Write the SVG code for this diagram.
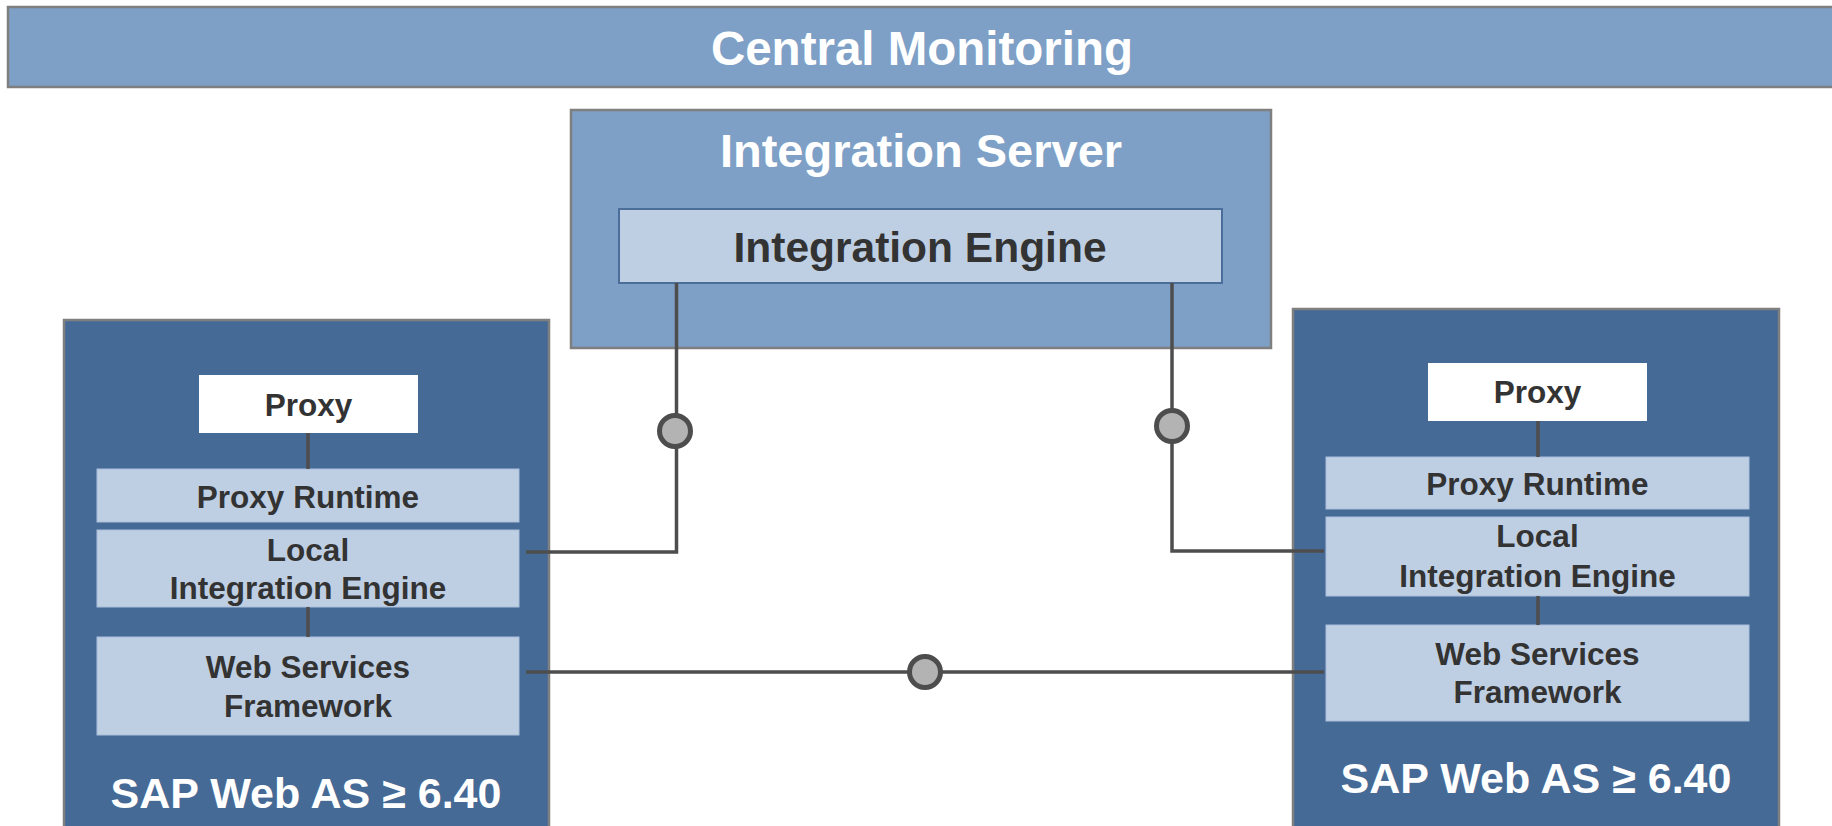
<svg xmlns="http://www.w3.org/2000/svg" width="1832" height="826" viewBox="0 0 1832 826">
<style>
text{font-family:"Liberation Sans",Arial,sans-serif;font-weight:bold;text-anchor:middle}
.w{fill:#ffffff}
.d{fill:#333333}
.outer{stroke:#7f7f7f;stroke-width:2.5}
.mid{fill:#7e9fc6}
.dark{fill:#466a96}
.lite{fill:#bfcfe3;stroke:#a9bedb;stroke-width:1}
.prox{fill:#ffffff}
.ln{fill:none;stroke:#4d4d4d;stroke-width:3.5}
.dot{fill:#b3b3b3;stroke:#4d4d4d;stroke-width:5}
.s31{font-size:31.5px}
</style>
<g id="central-monitoring">
<rect class="mid outer" x="8" y="7" width="1830" height="80"/>
<text class="w" x="922" y="65" font-size="47.5">Central Monitoring</text>
</g>
<g id="integration-server">
<rect class="mid outer" x="571" y="110" width="700" height="238"/>
<text class="w" x="921" y="167" font-size="47">Integration Server</text>
</g>
<g id="integration-engine">
<rect x="619" y="209" width="603" height="74" fill="#bfcfe3" stroke="#4a6d99" stroke-width="2"/>
<text class="d" x="920" y="262" font-size="42.5">Integration Engine</text>
</g>
<g id="left-as">
<rect class="dark outer" x="64" y="320" width="485" height="520"/>
<text class="w" x="306" y="808" font-size="43">SAP Web AS ≥ 6.40</text>
</g>
<g id="left-proxy">
<rect class="prox" x="199" y="375" width="219" height="58"/>
<text class="d s31" x="308.5" y="416">Proxy</text>
</g>
<g id="left-proxy-runtime">
<rect class="lite" x="97" y="469" width="422" height="53"/>
<text class="d s31" x="308" y="508">Proxy Runtime</text>
</g>
<g id="left-local-ie">
<rect class="lite" x="97" y="530" width="422" height="77"/>
<text class="d s31" x="308" y="561">Local</text>
<text class="d s31" x="308" y="599">Integration Engine</text>
</g>
<g id="left-wsf">
<rect class="lite" x="97" y="637" width="422" height="98"/>
<text class="d s31" x="308" y="678">Web Services</text>
<text class="d s31" x="308" y="717">Framework</text>
</g>
<g id="right-as">
<rect class="dark outer" x="1293" y="309" width="486" height="530"/>
<text class="w" x="1536" y="793" font-size="43">SAP Web AS ≥ 6.40</text>
</g>
<g id="right-proxy">
<rect class="prox" x="1428" y="363" width="219" height="58"/>
<text class="d s31" x="1537.5" y="403">Proxy</text>
</g>
<g id="right-proxy-runtime">
<rect class="lite" x="1326" y="457" width="423" height="52"/>
<text class="d s31" x="1537.5" y="495">Proxy Runtime</text>
</g>
<g id="right-local-ie">
<rect class="lite" x="1326" y="517" width="423" height="79"/>
<text class="d s31" x="1537.5" y="547">Local</text>
<text class="d s31" x="1537.5" y="587">Integration Engine</text>
</g>
<g id="right-wsf">
<rect class="lite" x="1326" y="625" width="423" height="96"/>
<text class="d s31" x="1537.5" y="665">Web Services</text>
<text class="d s31" x="1537.5" y="703">Framework</text>
</g>
<g id="connectors">
<line class="ln" x1="308" y1="433" x2="308" y2="469"/>
<line class="ln" x1="308" y1="607" x2="308" y2="637"/>
<line class="ln" x1="1538" y1="421" x2="1538" y2="457"/>
<line class="ln" x1="1538" y1="596" x2="1538" y2="625"/>
<path class="ln" d="M526 552 H676.5 V283"/>
<path class="ln" d="M1324 551 H1172 V283"/>
<path class="ln" d="M526 672 H1324"/>
<circle class="dot" cx="675" cy="431" r="15.5"/>
<circle class="dot" cx="1172" cy="426" r="15.5"/>
<circle class="dot" cx="925" cy="672" r="15.5"/>
</g>
</svg>
